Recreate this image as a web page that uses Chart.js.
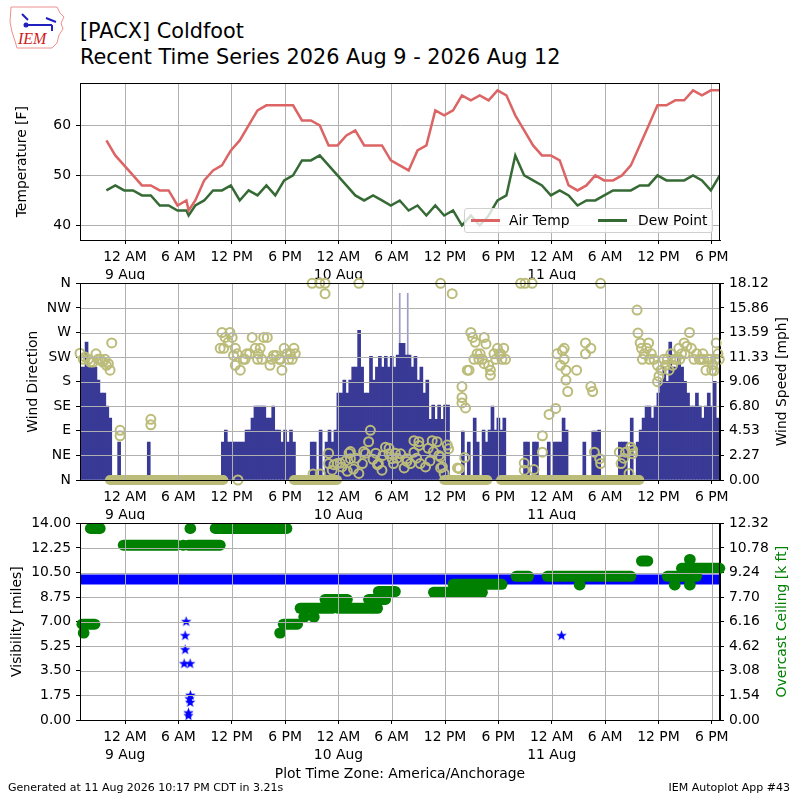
<!DOCTYPE html>
<html lang="en">
<head>
<meta charset="UTF-8">
<title>[PACX] Coldfoot</title>
<style>
  * { margin: 0; padding: 0; box-sizing: border-box; }
  body { width: 800px; height: 800px; position: relative; background: #fff; overflow: hidden;
         font-family: "DejaVu Sans", sans-serif; color: #000; }
  canvas { position: absolute; left: 0; }
  .title { position: absolute; left: 80px; font-size: 20.8px; line-height: 20.8px; white-space: nowrap; }
  .foot { position: absolute; font-size: 11px; line-height: 11px; white-space: nowrap; }
  #legend { position: absolute; left: 464px; top: 208px; width: 249px; height: 25px; z-index: 5;
            background: rgba(255,255,255,0.8); border: 1px solid #d0d0d0; border-radius: 3px;
            font-size: 13.9px; }
  #legend .sw { position: absolute; top: 10px; width: 29px; height: 3px; }
  #legend .lb { position: absolute; top: 3px; line-height: 16px; white-space: nowrap; }
  #logo { position: absolute; left: 8px; top: 4px; }
</style>
<script src="https://cdn.jsdelivr.net/npm/chart.js"></script>
</head>
<body>
  <svg id="logo" width="60" height="48" viewBox="0 0 60 48">
    <path d="M3,3 L49,3 L52,9 L56,13 L53,19 L55,25 L51,31 L49,39 L44,44 L9,44 L7,37 L4,28 L2,18 Z"
          fill="none" stroke="#ee9090" stroke-width="1"/>
    <path d="M14,10 L20,16 M16,21 L44,21 M38,14 L48,18 M44,21 L44,27" stroke="#2020c0" stroke-width="2" fill="none"/>
    <circle cx="18" cy="21" r="2.5" fill="#2020c0"/>
    <text x="10" y="40" font-family="Liberation Serif" font-style="italic" font-size="16" fill="#d02020">IEM</text>
  </svg>
  <div class="title" style="top:21px">[PACX] Coldfoot</div>
  <div class="title" style="top:47px">Recent Time Series 2026 Aug 9 - 2026 Aug 12</div>

  <canvas id="tempChart" width="800" height="210" style="top:70px"></canvas>
  <canvas id="windChart" width="800" height="250" style="top:270px"></canvas>
  <canvas id="visChart" width="800" height="290" style="top:510px"></canvas>

  <div id="legend">
    <div class="sw" style="left:6px;background:#dc6464"></div>
    <div class="lb" style="left:44px">Air Temp</div>
    <div class="sw" style="left:133px;background:#356a35"></div>
    <div class="lb" style="left:173px">Dew Point</div>
  </div>

  <div class="foot" style="left:8px;top:782px">Generated at 11 Aug 2026 10:17 PM CDT in 3.21s</div>
  <div class="foot" style="right:10px;top:782px">IEM Autoplot App #43</div>

<script>
// hours measured from 12 AM 9 Aug (America/Anchorage)
const xMin = -5.07, xMax = 66.93;
const xTickHours = [0, 6, 12, 18, 24, 30, 36, 42, 48, 54, 60, 66];
const xTickLabels = [['12 AM', '9 Aug'], '6 AM', '12 PM', '6 PM', ['12 AM', '10 Aug'], '6 AM', '12 PM', '6 PM',
                     ['12 AM', '11 Aug'], '6 AM', '12 PM', '6 PM'];

// --- temperature panel ---
const tempHours = [-2.1, -1.1, -0.1, 0.9, 1.9, 2.9, 3.9, 4.9, 5.9, 6.9, 7.15, 7.9, 8.9, 9.9, 10.9, 11.9, 12.9,
  13.9, 14.9, 15.9, 16.9, 17.9, 18.9, 19.9, 20.9, 21.9, 22.9, 23.9, 24.9, 25.9, 26.9, 27.9, 28.9, 29.9, 30.9,
  31.9, 32.9, 33.9, 34.9, 35.9, 36.9, 37.9, 38.9, 39.9, 40.9, 41.9, 42.9, 43.9, 44.9, 45.9, 46.9, 47.9, 48.9,
  49.9, 50.9, 51.9, 52.9, 53.9, 54.9, 55.9, 56.9, 57.9, 58.9, 59.9, 60.9, 61.9, 62.9, 63.9, 64.9, 65.9, 66.9];
const airTemp = [57, 54, 52, 50, 48, 48, 47, 47, 44, 45, 43, 45, 49, 51, 52, 55, 57, 60, 63, 64, 64, 64, 64,
  61, 61, 60, 56, 56, 58, 59, 56, 56, 56, 53, 52, 51, 55, 56, 63, 62, 63, 66, 65, 66, 65, 67, 66, 62, 59, 56,
  54, 54, 53, 48, 47, 48, 50, 49, 49, 50, 52, 56, 60, 64, 64, 65, 65, 67, 66, 67, 67];
const dewPoint = [47, 48, 47, 47, 46, 46, 44, 44, 43, 43, 42, 44, 45, 47, 47, 48, 45, 47, 46, 48, 46, 49, 50,
  53, 53, 54, 52, 50, 48, 46, 45, 46, 45, 44, 45, 43, 44, 42, 44, 42, 43, 40, 42, 40, 42, 45, 46, 54, 50, 49,
  48, 46, 47, 46, 44, 45, 45, 46, 47, 47, 47, 48, 48, 50, 49, 49, 49, 50, 49, 47, 50];
const tempTicks = [40, 50, 60];

// --- wind panel ---
const dirTicks = [0, 45, 90, 135, 180, 225, 270, 315, 360];
const dirTickLabels = ['N', 'NE', 'E', 'SE', 'S', 'SW', 'W', 'NW', 'N'];
const speedTicks = [0, 2.265, 4.53, 6.795, 9.06, 11.325, 13.59, 15.855, 18.12];
const speedTickLabels = ['0.00', '2.27', '4.53', '6.80', '9.06', '11.33', '13.59', '15.86', '18.12'];

const windStart = -5, windStepMin = 20;   // one value every 20 minutes
const windSpeed = [
  10.4, 10.4, 12.7, 10.4, 10.4, 10.4, 9.2, 8.0, 8.0, 6.8, 5.7, 0, 0, 3.5, 0, 0, 0, 0,
  0, 0, 0, 0, 0, 3.5, 0, 0, 0, 0, 0, 0, 0, 0, 0, 0, 0, 0,
  0, 0, 0, 0, 0, 0, 0, 0, 0, 0, 0, 0, 3.5, 4.6, 3.5, 3.5, 3.5, 3.5,
  3.5, 3.5, 4.6, 4.6, 5.7, 6.8, 6.8, 6.8, 6.8, 5.7, 5.7, 6.8, 4.6, 4.6, 3.5, 4.6, 3.5, 4.6,
  3.5, 0, 0, 0, 0, 0, 3.5, 3.5, 0, 4.6, 0, 3.5, 4.6, 3.5, 4.6, 8.0, 8.0, 9.2,
  8.0, 9.2, 10.4, 10.4, 13.8, 10.4, 8.0, 8.0, 11.4, 9.2, 10.4, 11.4, 10.4, 11.4, 10.4, 11.4, 10.4, 11.5,
  12.6, 12.6, 11.5, 11.5, 10.4, 11.4, 9.2, 10.4, 8.0, 9.2, 5.6, 6.9, 5.6, 6.9, 5.6, 6.9, 6.9, 0,
  0, 0, 0, 4.5, 0, 3.5, 0, 5.7, 3.5, 0, 4.6, 3.5, 4.6, 6.8, 4.6, 5.7, 4.6, 5.7,
  0, 0, 0, 0, 0, 0, 3.5, 3.5, 0, 3.5, 3.5, 0, 0, 0, 3.5, 0, 3.5, 3.5,
  3.5, 5.7, 4.6, 0, 0, 0, 0, 0, 3.5, 0, 0, 4.5, 4.5, 4.6, 0, 0, 0, 0,
  0, 0, 3.5, 3.5, 3.5, 0, 5.7, 0, 3.5, 4.6, 5.7, 6.8, 6.8, 5.7, 6.8, 8.0, 9.1, 10.4,
  9.1, 12.7, 10.4, 10.4, 11.2, 10.4, 9.1, 8.0, 6.8, 6.8, 8.0, 6.8, 5.7, 6.8, 8.0, 6.8, 9.1, 5.7
];
const spikeHours = [30.9, 31.8];
const spikeSpeed = [17.2, 17.2];

const dirHours = [
  -5.07, -4.7, -4.5, -4.13, -3.9, -3.58, -3.27, -3.04, -2.8, -2.5, -2.25, -2.1, -1.88, -1.69, -1.5,
  -0.56, -0.56, 2.9, 2.9,
  10.7, 10.9, 11.1, 11.27, 11.6, 11.8, 12.05, 12.2, 12.4, 12.4, 12.6, 12.7, 12.96, 13.3, 13.5, 13.7, 14.0,
  14.3, 14.65, 14.9, 15.0, 15.2, 15.4, 15.6, 16.0, 16.3, 16.5, 16.7, 17.0, 17.35, 17.5, 17.65, 17.9, 18.2,
  18.4, 18.6, 18.8, 19.0, 19.15,
  21.04, 21.9, 22.5, 22.5, 26.3,
  21.15, 21.97, 22.9, 22.9, 23.3, 23.5, 23.85, 24.2, 24.4, 24.8, 25.0, 25.2, 25.35, 25.35, 25.7, 26.0, 26.3,
  26.7, 26.84, 27.04, 27.4, 27.6, 27.9, 28.2, 28.4, 28.5, 28.9, 29.0, 29.3, 29.7, 29.7, 30.05, 30.2, 30.4,
  30.6, 31.0, 31.4, 31.7, 31.7, 32.1, 32.5, 32.5, 32.8, 33.05, 33.05, 33.2, 33.8, 34.1, 34.3, 34.55, 34.7,
  35.1, 35.3, 35.5, 35.5, 35.7, 35.9, 36.25, 36.4, 37.4, 37.6, 38.2,
  35.5, 36.8, 44.5, 45.0, 45.8, 53.5,
  37.9, 37.9, 37.9, 38.3, 38.5, 38.7, 38.9, 39.1, 39.25, 39.4, 39.6, 39.8, 39.95, 40.2, 40.4, 40.4, 40.6,
  40.9, 41.1, 41.1, 41.5, 41.7, 41.9, 42.1, 42.25, 42.4, 42.6, 42.8,
  44.9, 44.9, 46.0, 46.95, 46.95, 47.7, 48.45,
  48.6, 49.0, 49.2, 49.4, 49.4, 49.6, 49.6, 49.8, 50.8,
  51.8, 51.8, 52.4, 52.4, 52.6, 52.8, 53.4, 53.5,
  55.6, 55.8, 56.1, 56.3, 56.7, 56.9, 57.1, 57.1,
  57.6, 57.7, 57.95, 58.1, 58.2, 58.4, 58.7, 58.9, 59.0, 59.2, 59.5, 59.9, 59.9, 60.06, 60.3, 60.6, 60.8,
  61.0, 61.2, 61.4, 61.6, 61.8, 62.0, 62.3, 62.4, 62.6, 62.9, 63.0, 63.2, 63.5, 63.7, 64.0, 64.3, 64.6,
  64.8, 65.0, 65.1, 65.35, 65.6, 65.8, 66.0, 66.1, 66.25, 66.4, 66.5, 66.7, 66.85
];
const dirDeg = [
  232, 221, 225, 221, 216, 216, 231, 221, 221, 216, 221, 210, 213, 201, 251,
  91, 81, 111, 101,
  241, 270, 241, 261, 252, 270, 261, 228, 241, 210, 231, 0, 201, 221, 221, 231, 231,
  261, 241, 221, 231, 241, 221, 261, 261, 210, 221, 228, 228, 221, 221, 201, 241, 231,
  221, 231, 221, 241, 231,
  360, 360, 360, 341, 360,
  11, 11, 49, 30, 18, 28, 30, 31, 24, 35, 16, 49, 39, 52, 20, 40, 12,
  30, 52, 49, 70, 91, 38, 49, 28, 30, 18, 45, 60, 58, 48, 39, 30, 49,
  40, 48, 22, 34, 39, 30, 72, 51, 40, 63, 70, 30, 24, 58, 35, 72, 52,
  70, 45, 42, 22, 24, 12, 64, 57, 22, 21, 41,
  360, 341, 360, 360, 360, 360,
  171, 151, 141, 132, 201, 201, 270, 261, 221, 252, 231, 221, 231, 221, 261, 213, 249,
  210, 192, 201, 231, 221, 241, 231, 231, 221, 241, 221,
  31, 18, 19, 81, 51, 120, 131,
  231, 210, 237, 221, 241, 201, 183, 162, 201,
  251, 231, 241, 171, 162, 51, 39, 30,
  51, 30, 40, 51, 12, 60, 48, 55,
  311, 269, 251, 241, 221, 231, 241, 251, 221, 231, 221, 210, 180, 190, 201, 221, 210,
  221, 201, 231, 210, 221, 221, 241, 221, 231, 251, 231, 245, 270, 241, 221, 231, 221,
  221, 231, 221, 201, 221, 221, 201, 211, 200, 221, 251, 231, 221
];
// calm periods (direction 0)
const calmStart = [-1.7, 19.0, 35.9, 42.3];
const calmEnd = [11.05, 23.85, 40.75, 57.85];

// --- visibility / ceiling panel ---
const visTicks = [0, 1.75, 3.5, 5.25, 7, 8.75, 10.5, 12.25, 14];
const ceilTicks = [0, 1.54, 3.08, 4.62, 6.16, 7.7, 9.24, 10.78, 12.32];
const visBandHours = [-5.07, 66.93];
const visBandMiles = [10, 10];
const visStarHours = [6.87, 6.76, 6.76, 6.65, 7.32, 7.35, 7.25, 7.32, 7.13, 7.13, 49.1];
const visStarMiles = [7.0, 6.0, 5.0, 4.0, 4.0, 1.75, 1.5, 1.25, 0.5, 0.3, 6.0];
const ceilStart = [-4.85, -4.7, -3.9, -0.2, 6.5, 7.1, 7.3, 10.14, 17.4, 17.8, 19.7, 20.1, 21.2, 22.5, 24.0,
  27.4, 28.5, 34.7, 36.9, 44.0, 47.5, 51.1, 58.1, 61.0, 61.8, 63.5, 63.5, 62.6, 62.8];
const ceilEnd = [-3.4, -4.62, -2.8, 5.85, 6.58, 10.7, 7.38, 18.2, 17.48, 19.4, 23.3, 20.18, 21.28, 25.0, 28.4,
  29.3, 30.4, 40.2, 42.4, 45.4, 56.9, 51.18, 58.8, 62.6, 61.88, 63.58, 63.58, 66.9, 64.3];
const ceilLevel = [6.0, 5.45, 12.0, 10.95, 10.95, 10.95, 12.0, 12.0, 5.45, 6.0, 7.0, 6.45, 6.45, 7.55, 7.0,
  7.55, 8.05, 8.0, 8.5, 9.0, 9.0, 8.46, 9.96, 9.0, 8.46, 8.46, 10.06, 9.5, 9.0];

// colours
const red = '#dc6464', dkgreen = '#356a35', navy = '#393996', olive = 'rgb(188,188,122)';
const gridGray = '#b0b0b0';

Chart.defaults.font.family = '"DejaVu Sans", sans-serif';
Chart.defaults.font.size = 13.9;
Chart.defaults.color = '#000';

// frame + optional grid drawn above the data (as matplotlib does for bars/scatter)
const framePlugin = {
  id: 'frame',
  afterDatasetsDraw(chart, args, opts) {
    const { ctx, chartArea: a, scales } = chart;
    ctx.save();
    if (opts.gridOver) {
      ctx.strokeStyle = gridGray;
      ctx.lineWidth = 1;
      ctx.beginPath();
      scales.x.ticks.forEach(t => {
        const px = Math.round(scales.x.getPixelForValue(t.value)) + 0.5;
        ctx.moveTo(px, a.top); ctx.lineTo(px, a.bottom);
      });
      scales.y.ticks.forEach(t => {
        const py = Math.round(scales.y.getPixelForValue(t.value)) + 0.5;
        ctx.moveTo(a.left, py); ctx.lineTo(a.right, py);
      });
      ctx.stroke();
    }
    ctx.strokeStyle = '#000';
    ctx.lineWidth = 1;
    ctx.strokeRect(Math.round(a.left) + 0.5, Math.round(a.top) + 0.5,
                   Math.round(a.right) - Math.round(a.left) - 1, Math.round(a.bottom) - Math.round(a.top));
    ctx.restore();
  }
};

// right-hand axis title reading bottom to top
const rightTitlePlugin = {
  id: 'rightTitle',
  afterDraw(chart, args, o) {
    if (!o.text) return;
    const a = chart.chartArea, ctx = chart.ctx;
    ctx.save();
    ctx.translate(o.x, (a.top + a.bottom) / 2);
    ctx.rotate(-Math.PI / 2);
    ctx.font = '13.9px "DejaVu Sans"';
    ctx.fillStyle = o.color || '#000';
    ctx.textAlign = 'center';
    ctx.textBaseline = 'middle';
    ctx.fillText(o.text, 0, 0);
    ctx.restore();
  }
};
Chart.register(framePlugin, rightTitlePlugin);

function xAxis(height, onArea, title) {
  return {
    type: 'linear', min: xMin, max: xMax, offset: false,
    afterBuildTicks: s => { s.ticks = xTickHours.map(v => ({ value: v })); },
    afterFit: s => { s.height = height; },
    ticks: { autoSkip: false, maxRotation: 0, padding: 5, font: { lineHeight: 1.25 },
             callback: (v, i) => xTickLabels[i] },
    grid: { color: gridGray, tickColor: '#000', tickLength: 4, offset: false, drawOnChartArea: onArea },
    border: { color: '#000' },
    title: title || { display: false }
  };
}

function yAxis(pos, min, max, tickVals, labelFn, onArea, title) {
  return {
    type: 'linear', position: pos, min: min, max: max,
    afterBuildTicks: s => { s.ticks = tickVals.map(v => ({ value: v })); },
    afterFit: s => { s.width = 80; },
    ticks: { autoSkip: false, padding: 5, callback: labelFn },
    grid: { color: gridGray, tickColor: '#000', tickLength: 4, drawOnChartArea: onArea },
    border: { color: '#000' },
    title: title || { display: false }
  };
}

const baseOpts = { responsive: false, animation: false, events: [] };

// ---------- temperature ----------
new Chart(document.getElementById('tempChart'), {
  type: 'line',
  data: {
    datasets: [
      { label: 'Air Temp', data: tempHours.map((h, i) => ({ x: h, y: airTemp[i] })),
        borderColor: red, borderWidth: 2.5, pointRadius: 0, tension: 0 },
      { label: 'Dew Point', data: tempHours.map((h, i) => ({ x: h, y: dewPoint[i] })),
        borderColor: dkgreen, borderWidth: 2.5, pointRadius: 0, tension: 0 }
    ]
  },
  options: {
    ...baseOpts,
    layout: { padding: { top: 10, right: 80, left: 0, bottom: 0 } },
    plugins: { legend: { display: false }, tooltip: { enabled: false } },
    scales: {
      x: xAxis(40, true),
      y: yAxis('left', 37.1, 68.4, tempTicks, v => v, true,
               { display: true, text: 'Temperature [F]', padding: { top: 13.7, bottom: 0 } })
    }
  }
});

// ---------- wind ----------
const windSets = [
  { type: 'line', label: 'dir', data: dirHours.map((h, i) => ({ x: h, y: dirDeg[i] })), yAxisID: 'y',
    showLine: false, pointRadius: 4.5, pointBorderWidth: 2, pointBorderColor: olive,
    pointBackgroundColor: 'rgba(0,0,0,0)', borderColor: olive, clip: false }
];
calmStart.forEach((s, i) => windSets.push({
  type: 'line', label: 'calm', data: [{ x: s, y: 0 }, { x: calmEnd[i], y: 0 }], yAxisID: 'y',
  borderColor: olive, borderWidth: 10, borderCapStyle: 'round', pointRadius: 0, clip: false
}));
windSets.push(
  { type: 'bar', label: 'spd', data: windSpeed.map((v, i) => ({ x: windStart + i * windStepMin / 60, y: v })),
    yAxisID: 'y1', backgroundColor: navy, borderWidth: 0, barThickness: 3, grouped: false },
  { type: 'bar', label: 'spike', data: spikeHours.map((h, i) => ({ x: h, y: spikeSpeed[i] })),
    yAxisID: 'y1', backgroundColor: 'rgba(57,57,153,0.5)', borderWidth: 0, barThickness: 1, grouped: false }
);

new Chart(document.getElementById('windChart'), {
  type: 'bar',
  data: { datasets: windSets },
  options: {
    ...baseOpts,
    layout: { padding: { top: 10, right: 0, left: 0, bottom: 0 } },
    plugins: { legend: { display: false }, tooltip: { enabled: false }, frame: { gridOver: true },
               rightTitle: { text: 'Wind Speed [mph]', x: 782, color: '#000' } },
    scales: {
      x: xAxis(40, false),
      y: yAxis('left', 0, 360, dirTicks, (v, i) => dirTickLabels[i], false,
               { display: true, text: 'Wind Direction', padding: { top: 24.7, bottom: 0 } }),
      y1: yAxis('right', 0, 18.12, speedTicks, (v, i) => speedTickLabels[i], false)
    }
  }
});

// ---------- visibility / ceiling ----------
function starImage(r, color) {
  const c = document.createElement('canvas');
  const s = Math.ceil(r * 2 + 2);
  c.width = c.height = s;
  const g = c.getContext('2d');
  g.fillStyle = color;
  g.beginPath();
  for (let k = 0; k < 10; k++) {
    const rr = k % 2 ? r * 0.42 : r;
    const ang = -Math.PI / 2 + k * Math.PI / 5;
    g.lineTo(s / 2 + rr * Math.cos(ang), s / 2 + rr * Math.sin(ang));
  }
  g.closePath();
  g.fill();
  return c;
}

const visSets = ceilStart.map((s, i) => ({
  type: 'line', label: 'ceil', data: [{ x: s, y: ceilLevel[i] }, { x: ceilEnd[i], y: ceilLevel[i] }],
  yAxisID: 'y1', borderColor: '#008000', borderWidth: 11, borderCapStyle: 'round', pointRadius: 0, clip: false
}));
visSets.push(
  { type: 'line', label: 'visstar', data: visStarHours.map((h, i) => ({ x: h, y: visStarMiles[i] })),
    yAxisID: 'y', showLine: false, pointStyle: starImage(5.5, '#0000ff'), pointRadius: 5.5 },
  { type: 'line', label: 'vis', data: visBandHours.map((h, i) => ({ x: h, y: visBandMiles[i] })),
    yAxisID: 'y', borderColor: '#0000ff', borderWidth: 10, borderCapStyle: 'butt', pointRadius: 0, clip: 0 }
);

new Chart(document.getElementById('visChart'), {
  type: 'line',
  data: { datasets: visSets },
  options: {
    ...baseOpts,
    layout: { padding: { top: 10, right: 0, left: 0, bottom: 0 } },
    plugins: { legend: { display: false }, tooltip: { enabled: false }, frame: { gridOver: true },
               rightTitle: { text: 'Overcast Ceiling [k ft]', x: 782, color: '#008000' } },
    scales: {
      x: xAxis(80, false, { display: true, text: 'Plot Time Zone: America/Anchorage',
                            padding: { top: 0, bottom: 17.5 } }),
      y: yAxis('left', 0, 14, visTicks, v => v.toFixed(2), false,
               { display: true, text: 'Visibility [miles]', padding: { top: 8.7, bottom: 0 } }),
      y1: yAxis('right', 0, 12.32, ceilTicks, v => v.toFixed(2), false)
    }
  }
});
</script>
</body>
</html>
